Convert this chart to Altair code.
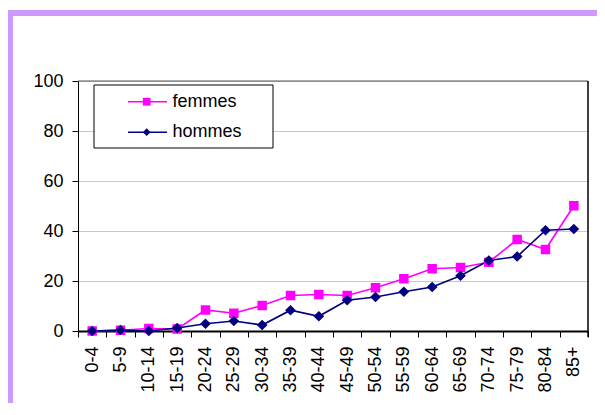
import altair as alt
import pandas as pd

categories = ["0-4", "5-9", "10-14", "15-19", "20-24", "25-29", "30-34", "35-39",
              "40-44", "45-49", "50-54", "55-59", "60-64", "65-69", "70-74",
              "75-79", "80-84", "85+"]
femmes = [0.0, 0.3, 1.0, 0.8, 8.4, 7.1, 10.2, 14.2, 14.6, 14.2, 17.3, 20.9,
          24.9, 25.4, 27.5, 36.6, 32.6, 50.1]
hommes = [0.0, 0.4, 0.0, 1.2, 2.9, 4.0, 2.4, 8.3, 5.9, 12.3, 13.6, 15.7,
          17.6, 22.1, 28.2, 29.8, 40.3, 40.8]
series_names = ["femmes", "hommes"]
series_colors = ["#FF00FF", "#000080"]
series_shapes = ["square", "diamond"]
series_sizes = [90, 115]
y_ticks = [0, 20, 40, 60, 80, 100]

FONT = "Arial, Liberation Sans, sans-serif"

rows = []
for name, vals in zip(series_names, [femmes, hommes]):
    for c, v in zip(categories, vals):
        rows.append({"age": c, "value": v, "serie": name})
df = pd.DataFrame(rows)

one = pd.DataFrame({"k": [0]})

x_enc = alt.X(
    "age:N", sort=categories, title=None,
    scale=alt.Scale(type="band", paddingInner=0, paddingOuter=0),
    axis=alt.Axis(labelAngle=-90, tickBand="extent", labelFont=FONT,
                  labelFontSize=18, labelColor="black", domainColor="black",
                  domainWidth=2, tickColor="black", tickSize=6, tickWidth=1,
                  labelPadding=9, grid=False),
)
y_enc = alt.Y(
    "value:Q", title=None,
    scale=alt.Scale(domain=[0, 100], nice=False),
    axis=alt.Axis(values=y_ticks, labelFont=FONT, labelFontSize=18,
                  labelColor="black", domainColor="black", domainWidth=1,
                  tickColor="black", tickSize=6, labelPadding=9,
                  grid=True, gridColor="#C8C8C8", gridWidth=1),
)
color_enc = alt.Color("serie:N", scale=alt.Scale(domain=series_names, range=series_colors), legend=None)
shape_enc = alt.Shape("serie:N", scale=alt.Scale(domain=series_names, range=series_shapes), legend=None)
size_enc = alt.Size("serie:N", scale=alt.Scale(domain=series_names, range=series_sizes), legend=None)

frame = alt.Chart(one).mark_rect(fill=None, stroke="#CC99FF", strokeWidth=6).encode(
    x=alt.value(-68), x2=alt.value(640), y=alt.value(-68), y2=alt.value(400)
)
top_border = alt.Chart(one).mark_rule(color="#555555", strokeWidth=1).encode(
    x=alt.value(0), x2=alt.value(510), y=alt.value(0)
)
right_border = alt.Chart(one).mark_rule(color="black", strokeWidth=1.5).encode(
    x=alt.value(510), y=alt.value(0), y2=alt.value(256)
)

lines = alt.Chart(df).mark_line(strokeWidth=1.7).encode(
    x=x_enc, y=y_enc, color=color_enc, detail="serie:N"
)
points = alt.Chart(df).mark_point(filled=True, opacity=1).encode(
    x=alt.X("age:N", sort=categories), y="value:Q", color=color_enc,
    shape=shape_enc, size=size_enc
)

legend_box = alt.Chart(one).mark_rect(fill="white", stroke="black", strokeWidth=1).encode(
    x=alt.value(16), x2=alt.value(195), y=alt.value(4), y2=alt.value(67)
)
legend_layers = [legend_box]
for i, (name, col, shp) in enumerate(zip(series_names, series_colors, series_shapes)):
    ly = 20.7 + i * 30.5
    legend_layers.append(alt.Chart(one).mark_rule(color=col, strokeWidth=1.5).encode(
        x=alt.value(50), x2=alt.value(89), y=alt.value(ly)))
    legend_layers.append(alt.Chart(one).mark_point(filled=True, opacity=1, size=60,
                                                   shape=shp, color=col).encode(
        x=alt.value(68.7), y=alt.value(ly)))
    legend_layers.append(alt.Chart(one).mark_text(text=name, font=FONT, fontSize=18,
                                                  align="left", baseline="middle",
                                                  color="black").encode(
        x=alt.value(94.5), y=alt.value(ly)))

chart = alt.layer(frame, lines, points, top_border, right_border, *legend_layers).properties(
    width=510, height=250,
    padding={"left": 70, "top": 73, "right": 9, "bottom": 72},
    autosize=alt.AutoSizeParams(type="none"),
    background="white",
).configure_view(stroke=None)

chart.save("out.html", embed_options={"renderer": "svg", "actions": False})
